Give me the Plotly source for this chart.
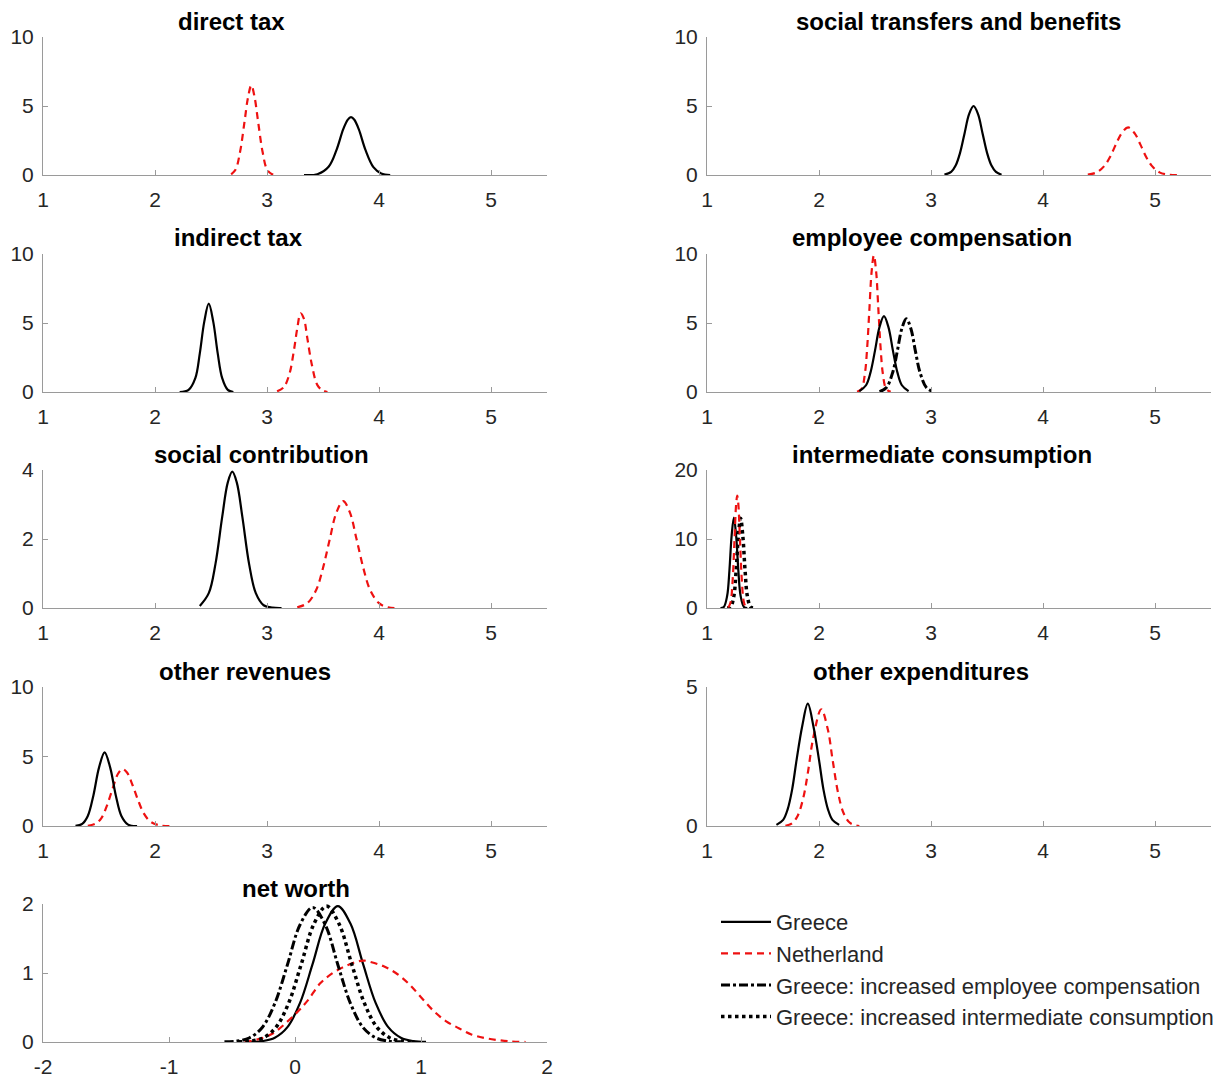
import plotly.graph_objects as go

# The page body has an 8px margin, so the figure is laid out in screen pixels minus 8.
OFF = 8
W, H = 1231 - OFF, 1079 - OFF

# ---------------- data ----------------
# direct tax
dt_gr_x = [3.33, 3.45, 3.55, 3.62, 3.68, 3.72, 3.75, 3.78, 3.82, 3.88, 3.95, 4.02, 4.10]
dt_gr_y = [0.0, 0.06, 0.6, 1.8, 3.3, 4.0, 4.2, 4.0, 3.3, 1.8, 0.57, 0.11, 0.0]
dt_nl_x = [2.68, 2.72, 2.76, 2.80, 2.83, 2.86, 2.89, 2.92, 2.96, 3.00, 3.04, 3.08]
dt_nl_y = [0.05, 0.4, 1.7, 3.9, 5.6, 6.5, 5.6, 3.9, 1.7, 0.4, 0.08, 0.0]

# indirect tax
it_gr_x = [2.22, 2.30, 2.36, 2.40, 2.44, 2.48, 2.52, 2.56, 2.60, 2.65, 2.70]
it_gr_y = [0.0, 0.15, 1.0, 2.8, 5.1, 6.4, 5.1, 2.8, 1.0, 0.15, 0.0]
it_nl_x = [3.09, 3.15, 3.20, 3.24, 3.27, 3.30, 3.33, 3.36, 3.40, 3.45, 3.50, 3.54]
it_nl_y = [0.05, 0.35, 1.3, 3.0, 4.6, 5.7, 5.3, 3.9, 2.0, 0.5, 0.1, 0.0]

# social contribution
sc_gr_x = [2.40, 2.48, 2.54, 2.60, 2.65, 2.69, 2.73, 2.78, 2.84, 2.90, 2.97, 3.05, 3.13]
sc_gr_y = [0.06, 0.43, 1.28, 2.64, 3.64, 3.95, 3.64, 2.64, 1.28, 0.43, 0.08, 0.01, 0.0]
sc_nl_x = [3.27, 3.36, 3.44, 3.50, 3.56, 3.62, 3.68, 3.74, 3.80, 3.86, 3.92, 4.00, 4.08, 4.16]
sc_nl_y = [0.02, 0.14, 0.53, 1.16, 1.99, 2.77, 3.1, 2.77, 1.99, 1.16, 0.53, 0.14, 0.02, 0.0]

# other revenues
or_gr_x = [1.29, 1.35, 1.40, 1.45, 1.50, 1.55, 1.60, 1.65, 1.70, 1.76, 1.84]
or_gr_y = [0.01, 0.15, 0.72, 2.2, 4.2, 5.3, 4.2, 2.2, 0.72, 0.1, 0.0]
or_nl_x = [1.40, 1.47, 1.52, 1.57, 1.62, 1.67, 1.71, 1.75, 1.80, 1.85, 1.90, 1.96, 2.04, 2.16]
or_nl_y = [0.02, 0.18, 0.55, 1.45, 2.65, 3.76, 4.1, 3.85, 2.93, 1.83, 0.91, 0.31, 0.05, 0.0]

# net worth
nw_gr_x = [-0.36, -0.26, -0.16, -0.06, 0.04, 0.14, 0.24, 0.34, 0.44, 0.54, 0.64, 0.74, 0.84, 0.94, 1.04]
nw_gr_y = [0.002, 0.013, 0.062, 0.215, 0.566, 1.132, 1.716, 1.97, 1.716, 1.132, 0.566, 0.215, 0.062, 0.013, 0.002]
nw_nl_x = [-0.40, -0.20, 0.00, 0.10, 0.20, 0.30, 0.40, 0.50, 0.55, 0.60, 0.70, 0.80, 0.90, 1.00, 1.10,
           1.20, 1.30, 1.40, 1.50, 1.60, 1.70, 1.83]
nw_nl_y = [0.0, 0.1, 0.4, 0.6, 0.85, 1.0, 1.1, 1.17, 1.18, 1.16, 1.1, 1.0, 0.85, 0.65, 0.45,
           0.3, 0.2, 0.11, 0.06, 0.03, 0.01, 0.0]
nw_ec_x = [-0.56, -0.46, -0.36, -0.26, -0.16, -0.06, 0.04, 0.14, 0.24, 0.34, 0.44, 0.54, 0.64, 0.74, 0.84]
nw_ec_y = [0.002, 0.013, 0.062, 0.21, 0.56, 1.12, 1.70, 1.95, 1.70, 1.12, 0.56, 0.21, 0.062, 0.013, 0.002]
nw_ic_x = [-0.45, -0.35, -0.25, -0.15, -0.05, 0.05, 0.15, 0.25, 0.35, 0.45, 0.55, 0.65, 0.75, 0.85, 0.95]
nw_ic_y = [0.002, 0.013, 0.062, 0.215, 0.566, 1.13, 1.71, 1.97, 1.71, 1.13, 0.566, 0.215, 0.062, 0.013, 0.002]

# social transfers and benefits
st_gr_x = [3.12, 3.18, 3.22, 3.26, 3.30, 3.34, 3.38, 3.42, 3.46, 3.50, 3.54, 3.58, 3.63]
st_gr_y = [0.025, 0.22, 0.68, 1.62, 3.03, 4.41, 5.0, 4.41, 3.03, 1.62, 0.68, 0.22, 0.02]
st_nl_x = [4.40, 4.48, 4.55, 4.60, 4.65, 4.70, 4.76, 4.82, 4.87, 4.92, 4.97, 5.04, 5.12, 5.20]
st_nl_y = [0.03, 0.19, 0.68, 1.33, 2.2, 3.0, 3.45, 3.0, 2.2, 1.33, 0.68, 0.19, 0.03, 0.0]

# employee compensation
ec_gr_x = [2.36, 2.42, 2.46, 2.50, 2.54, 2.58, 2.62, 2.66, 2.70, 2.74, 2.80]
ec_gr_y = [0.06, 0.49, 1.42, 3.0, 4.7, 5.5, 4.7, 3.0, 1.42, 0.49, 0.06]
ec_nl_x = [2.34, 2.38, 2.41, 2.43, 2.45, 2.47, 2.49, 2.51, 2.53, 2.55, 2.57, 2.60, 2.64]
ec_nl_y = [0.01, 0.22, 1.34, 3.2, 6.0, 8.74, 9.9, 8.74, 6.0, 3.2, 1.34, 0.22, 0.01]
ec_ec_x = [2.54, 2.60, 2.66, 2.70, 2.74, 2.78, 2.82, 2.86, 2.90, 2.96, 3.02]
ec_ec_y = [0.03, 0.3, 1.47, 3.0, 4.6, 5.3, 4.6, 3.0, 1.47, 0.3, 0.03]

# intermediate consumption
ic_gr_x = [1.12, 1.15, 1.18, 1.20, 1.22, 1.24, 1.26, 1.28, 1.30, 1.33, 1.36]
ic_gr_y = [0.0, 0.15, 1.77, 5.4, 10.5, 13.1, 10.5, 5.4, 1.77, 0.15, 0.0]
ic_nl_x = [1.19, 1.21, 1.23, 1.245, 1.26, 1.27, 1.28, 1.295, 1.31, 1.33, 1.35, 1.37]
ic_nl_y = [0.08, 0.81, 4.3, 9.7, 15.0, 16.3, 15.0, 9.7, 4.3, 0.81, 0.08, 0.0]
ic_ic_x = [1.18, 1.21, 1.24, 1.26, 1.28, 1.30, 1.32, 1.34, 1.36, 1.39, 1.42]
ic_ic_y = [0.0, 0.15, 1.76, 5.4, 10.4, 13.0, 10.4, 5.4, 1.76, 0.15, 0.0]

# other expenditures
oe_gr_x = [1.62, 1.68, 1.72, 1.76, 1.80, 1.85, 1.90, 1.95, 2.00, 2.04, 2.08, 2.12, 2.18]
oe_gr_y = [0.04, 0.22, 0.6, 1.31, 2.38, 3.59, 4.4, 3.59, 2.38, 1.31, 0.6, 0.22, 0.04]
oe_nl_x = [1.70, 1.76, 1.81, 1.86, 1.90, 1.95, 2.02, 2.08, 2.12, 2.17, 2.22, 2.28, 2.36]
oe_nl_y = [0.01, 0.1, 0.37, 1.02, 1.9, 3.2, 4.2, 3.45, 2.42, 1.2, 0.46, 0.1, 0.0]

x_ticks = [1, 2, 3, 4, 5]
nw_x_ticks = [-2, -1, 0, 1, 2]
nw_x_labels = ["-2", "-1", "0", "1", "2"]

series_names = ["Greece", "Netherland",
                "Greece: increased employee compensation",
                "Greece: increased intermediate consumption"]

# ---------------- styling ----------------
FONT = "Liberation Sans"
AX_COLOR = "#9a9a9a"
TXT_COLOR = "#262626"
RED = "#ee1111"

styles = {
    "gr": dict(color="black", width=2.2, dash="solid"),
    "nl": dict(color=RED, width=2.2, dash="7px,5px"),
    "ec": dict(color="black", width=3, dash="dashdot"),
    "ic": dict(color="black", width=3.5, dash="dot"),
}
name_of = {"gr": series_names[0], "nl": series_names[1], "ec": series_names[2], "ic": series_names[3]}

# panels: (title, col, row, yrange, yticks, xrange, curves, title_px_x)
panels = [
    ("direct tax", 0, 0, [0, 10], [0, 5, 10], [1, 5.5],
     [("nl", dt_nl_x, dt_nl_y), ("gr", dt_gr_x, dt_gr_y)], 231),
    ("indirect tax", 0, 1, [0, 10], [0, 5, 10], [1, 5.5],
     [("nl", it_nl_x, it_nl_y), ("gr", it_gr_x, it_gr_y)], 238),
    ("social contribution", 0, 2, [0, 4], [0, 2, 4], [1, 5.5],
     [("nl", sc_nl_x, sc_nl_y), ("gr", sc_gr_x, sc_gr_y)], 261),
    ("other revenues", 0, 3, [0, 10], [0, 5, 10], [1, 5.5],
     [("nl", or_nl_x, or_nl_y), ("gr", or_gr_x, or_gr_y)], 245),
    ("net worth", 0, 4, [0, 2], [0, 1, 2], [-2, 2],
     [("gr", nw_gr_x, nw_gr_y), ("nl", nw_nl_x, nw_nl_y),
      ("ec", nw_ec_x, nw_ec_y), ("ic", nw_ic_x, nw_ic_y)], 296),
    ("social transfers and benefits", 1, 0, [0, 10], [0, 5, 10], [1, 5.5],
     [("nl", st_nl_x, st_nl_y), ("gr", st_gr_x, st_gr_y)], 958),
    ("employee compensation", 1, 1, [0, 10], [0, 5, 10], [1, 5.5],
     [("nl", ec_nl_x, ec_nl_y), ("gr", ec_gr_x, ec_gr_y), ("ec", ec_ec_x, ec_ec_y)], 932),
    ("intermediate consumption", 1, 2, [0, 20], [0, 10, 20], [1, 5.5],
     [("gr", ic_gr_x, ic_gr_y), ("ic", ic_ic_x, ic_ic_y), ("nl", ic_nl_x, ic_nl_y)], 942),
    ("other expenditures", 1, 3, [0, 5], [0, 5], [1, 5.5],
     [("nl", oe_nl_x, oe_nl_y), ("gr", oe_gr_x, oe_gr_y)], 921),
]

# screen-pixel layout (converted to paper coordinates below)
col_px = [(43, 547), (707, 1211)]
row_px = [(37, 175), (254, 392), (470, 608), (687, 826), (904, 1042)]
title_y_px = [22, 237, 454, 671, 888]


def px_x(p):
    return (p - OFF) / W


def px_y(p):
    return 1 - (p - OFF) / H


fig = go.Figure()
layout = dict(
    width=W, height=H,
    margin=dict(l=0, r=0, t=0, b=0, pad=0, autoexpand=False),
    paper_bgcolor="white", plot_bgcolor="white",
    font=dict(family=FONT, color=TXT_COLOR),
    annotations=[],
)

legend_done = set()
for i, (title, col, row, yr, yt, xr, curves, tx) in enumerate(panels):
    n = i + 1
    xa = "xaxis" if n == 1 else f"xaxis{n}"
    ya = "yaxis" if n == 1 else f"yaxis{n}"
    xref = "x" if n == 1 else f"x{n}"
    yref = "y" if n == 1 else f"y{n}"
    x0, x1 = col_px[col]
    t0, b0 = row_px[row]
    common = dict(showline=True, linecolor=AX_COLOR, linewidth=1, ticks="inside",
                  ticklen=5, tickcolor=AX_COLOR, showgrid=False, zeroline=False,
                  automargin=False,
                  tickfont=dict(size=21, color=TXT_COLOR, family=FONT), fixedrange=True)
    if xr[0] == -2:
        xt = dict(tickvals=nw_x_ticks, ticktext=nw_x_labels)
    else:
        xt = dict(tickvals=x_ticks, ticktext=[str(v) for v in x_ticks])
    layout[xa] = dict(domain=[px_x(x0), px_x(x1)], range=xr, anchor=yref,
                      ticklabelstandoff=6, **xt, **common)
    layout[ya] = dict(domain=[px_y(b0), px_y(t0)], range=yr, anchor=xref,
                      tickvals=yt, ticktext=[str(v) for v in yt],
                      ticklabelstandoff=4, **common)
    for key, xs, ys in curves:
        show = (row == 4) and key not in legend_done
        if show:
            legend_done.add(key)
        fig.add_trace(go.Scatter(
            x=xs, y=ys, mode="lines", line=dict(shape="spline", smoothing=1.0, **styles[key]),
            name=name_of[key], showlegend=show, legendrank={"gr": 1, "nl": 2, "ec": 3, "ic": 4}[key],
            xaxis=xref, yaxis=yref, cliponaxis=False, hoverinfo="skip"))
    layout["annotations"].append(dict(
        text=f"<b>{title}</b>", x=px_x(tx), y=px_y(title_y_px[row]), xref="paper", yref="paper",
        xanchor="center", yanchor="middle", showarrow=False,
        font=dict(size=24, color="black", family=FONT)))

layout["legend"] = dict(
    x=px_x(716), y=px_y(901), xanchor="left", yanchor="top",
    font=dict(size=22, color=TXT_COLOR, family=FONT),
    bgcolor="rgba(0,0,0,0)", borderwidth=0, itemwidth=50, tracegroupgap=0,
    traceorder="normal",
)
fig.update_layout(**layout)
fig.write_html("out.html")
